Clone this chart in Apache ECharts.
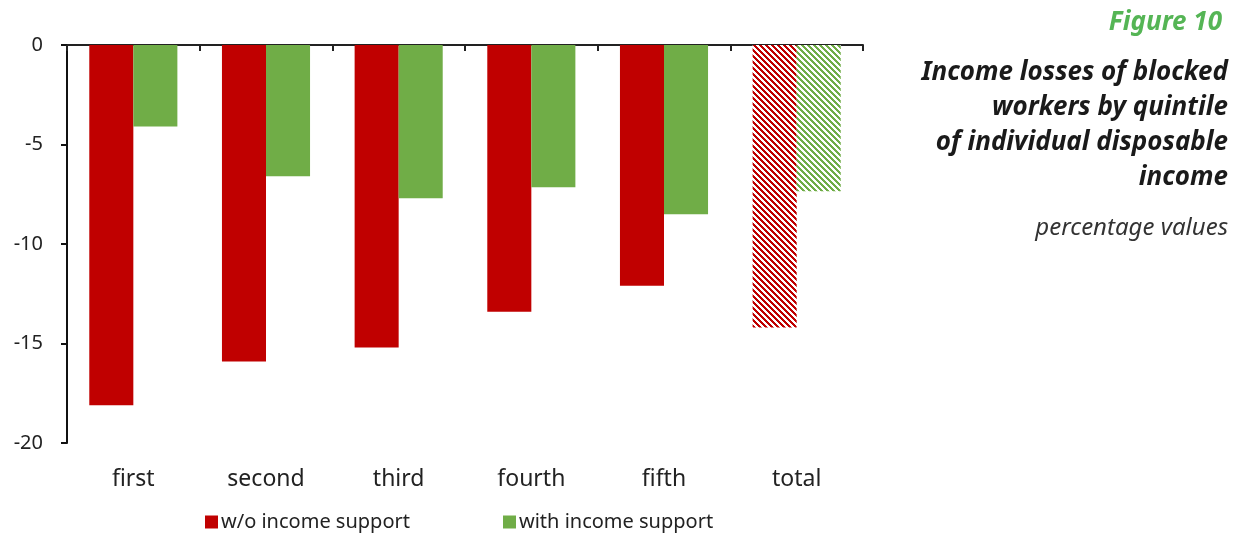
<!DOCTYPE html>
<html>
<head>
<meta charset="utf-8">
<script src="https://cdn.jsdelivr.net/npm/echarts@6/dist/echarts.min.js"></script>
<style>
  html, body { margin: 0; padding: 0; background: #ffffff; }
  #chart { width: 1241px; height: 533px; }
</style>
</head>
<body>
<div id="chart"></div>
<script>
// Quintiles of individual disposable income, plus the overall total
const categories = ['first', 'second', 'third', 'fourth', 'fifth', 'total'];
// Income losses (%) of blocked workers
const withoutSupport = [-18.1, -15.9, -15.2, -13.4, -12.1, -14.2];
const withSupport = [-4.1, -6.6, -7.7, -7.15, -8.5, -7.35];
const yTicks = [0, -5, -10, -15, -20];
const titleLines = ['Income losses of blocked', 'workers by quintile', 'of individual disposable', 'income'];

const RED = '#C00000';
const GREEN = '#70AD47';

// Diagonal stripe tile used for the "total" bars
function stripeTile(color) {
  const size = 6;
  const c = document.createElement('canvas');
  c.width = size; c.height = size;
  const ctx = c.getContext('2d');
  ctx.fillStyle = '#ffffff';
  ctx.fillRect(0, 0, size, size);
  ctx.fillStyle = color;
  for (let y = 0; y < size; y++) {
    for (let x = 0; x < size; x++) {
      if (((x - y) % size + size) % size < 3) ctx.fillRect(x, y, 1, 1);
    }
  }
  return { image: c, repeat: 'repeat' };
}

function buildData(values, color) {
  return values.map((v, i) =>
    categories[i] === 'total'
      ? { value: v, itemStyle: { color: stripeTile(color) } }
      : v
  );
}

const FONT = '"Noto Sans"';
const chart = echarts.init(document.getElementById('chart'), null, { renderer: 'canvas' });

// Heading block on the right
const heading = [
  {
    type: 'text',
    style: {
      text: 'Figure 10', x: 1222, y: 23,
      textAlign: 'right', textVerticalAlign: 'middle',
      fill: '#55B555', font: 'italic bold 26px ' + FONT
    }
  }
].concat(titleLines.map((line, i) => ({
  type: 'text',
  style: {
    text: line, x: 1228, y: 73 + i * 35,
    textAlign: 'right', textVerticalAlign: 'middle',
    fill: '#1a1a1a', font: 'italic bold 26px ' + FONT
  }
}))).concat([
  {
    type: 'text',
    style: {
      text: 'percentage values', x: 1228, y: 228,
      textAlign: 'right', textVerticalAlign: 'middle',
      fill: '#333333', font: 'italic 24px ' + FONT
    }
  }
]);

chart.setOption({
  animation: false,
  backgroundColor: '#ffffff',
  textStyle: { fontFamily: FONT },
  graphic: heading,
  legend: {
    left: 200, top: 507,
    itemWidth: 13, itemHeight: 13, itemGap: 93,
    icon: 'rect',
    textStyle: { fontFamily: FONT, fontSize: 20, color: '#222222', padding: [0, 0, 0, -2] },
    data: ['w/o income support', 'with income support']
  },
  grid: { left: 67, right: 378, top: 45, bottom: 90, containLabel: false },
  xAxis: [
    {
      type: 'category',
      data: categories,
      position: 'bottom',
      axisLine: { show: false },
      axisTick: { show: false },
      axisLabel: { fontFamily: FONT, fontSize: 23, color: '#222222', margin: 25 }
    },
    {
      type: 'category',
      data: categories,
      position: 'top',
      axisLine: { show: true, onZero: false, lineStyle: { color: '#222222', width: 2 } },
      axisTick: { show: true, inside: true, length: 6, interval: 0, lineStyle: { color: '#222222', width: 2 } },
      axisLabel: { show: false }
    }
  ],
  yAxis: {
    type: 'value',
    min: yTicks[yTicks.length - 1], max: yTicks[0], interval: 5,
    axisLine: { show: true, lineStyle: { color: '#111111', width: 2 } },
    axisTick: { show: true, length: 6, lineStyle: { color: '#111111', width: 2 } },
    splitLine: { show: false },
    axisLabel: { fontFamily: FONT, fontSize: 20, color: '#222222', margin: 24 }
  },
  series: [
    {
      name: 'w/o income support',
      type: 'bar',
      xAxisIndex: 0,
      barGap: 0,
      barCategoryGap: '33.6%',
      itemStyle: { color: RED },
      data: buildData(withoutSupport, RED)
    },
    {
      name: 'with income support',
      type: 'bar',
      xAxisIndex: 0,
      barGap: 0,
      barCategoryGap: '33.6%',
      itemStyle: { color: GREEN },
      data: buildData(withSupport, GREEN)
    }
  ]
});
</script>
</body>
</html>
